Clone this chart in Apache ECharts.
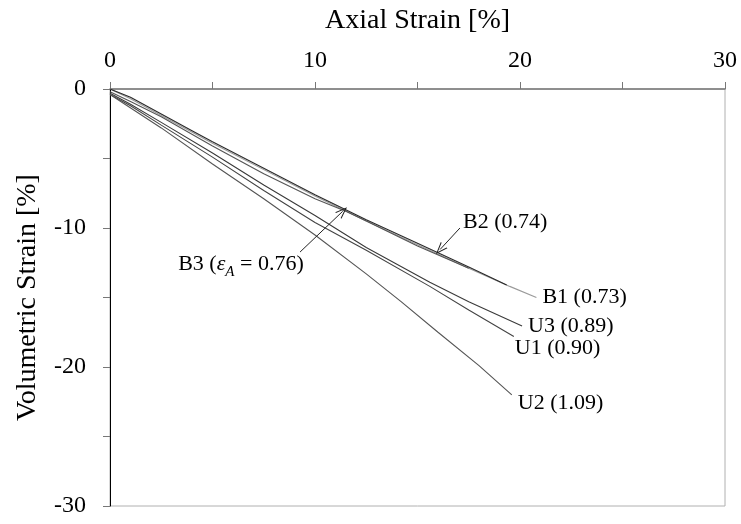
<!DOCTYPE html>
<html>
<head>
<meta charset="utf-8">
<script src="https://cdn.jsdelivr.net/npm/echarts@6/dist/echarts.min.js"></script>
<style>
  html, body { margin: 0; padding: 0; background: #fff; }
  #chart { width: 741px; height: 524px; }
</style>
</head>
<body>
<div id="chart"></div>
<script>
// curves: [axial strain %, volumetric strain %]
const B1 = [[0, 0], [1, -0.7], [2.5, -1.9], [5, -3.9], [7.5, -5.8], [10, -7.7], [12.5, -9.5], [15, -11.2], [17.5, -12.9], [19.5, -14.2], [20.8, -15.0]]
const B2 = [[0, 0], [1, -0.6], [2.5, -1.8], [4, -3.0], [5, -3.8], [7.5, -5.7], [10, -7.6], [12.5, -9.4], [15, -11.1], [17.5, -12.8], [19.35, -14.1]]
const B3 = [[0, -0.2], [1, -0.9], [2.5, -2.0], [5, -4.1], [7.5, -6.1], [10, -7.9], [11.5, -8.8], [12.5, -9.5], [15, -11.3], [17.5, -12.9]]
const U1 = [[0, -0.4], [1, -1.2], [2.5, -2.6], [5, -4.9], [7.5, -7.3], [10, -9.6], [12.5, -11.6], [15.6, -14.2], [17.5, -15.9], [19.7, -17.8]]
const U2 = [[0, -0.4], [2.5, -2.8], [5, -5.4], [7.5, -7.9], [10, -10.5], [12.5, -13.3], [14.2, -15.3], [16, -17.5], [18, -19.9], [19.6, -22.0]]
const U3 = [[0, -0.3], [1, -1.1], [2.5, -2.4], [5, -4.6], [7.5, -6.9], [10, -9.1], [12.5, -11.4], [15.6, -13.9], [17.5, -15.3], [20.1, -17.05]]

const xTicks = [0, 10, 20, 30]
const yTicks = [0, -10, -20, -30]

const FONT = 'Liberation Serif'

const chart = echarts.init(document.getElementById('chart'))

// curve with a label at its end (B1, U1..U3) or none
function curve(name, data, color, label, offset) {
  return {
    name,
    type: 'line',
    data,
    symbol: 'none',
    smooth: false,
    lineStyle: { color, width: 1.1 },
    silent: true,
    endLabel: label
      ? {
          show: true,
          formatter: label,
          fontFamily: FONT,
          fontSize: 22,
          color: '#000',
          distance: 6,
          offset: offset || [0, 0],
        }
      : { show: false },
  }
}

chart.setOption({
  animation: false,
  grid: {
    left: 110,
    right: 16,
    top: 89,
    bottom: 18,
    show: true,
    borderColor: '#b0b0b0',
    borderWidth: 1,
  },
  xAxis: {
    type: 'value',
    position: 'top',
    min: 0,
    max: 30,
    interval: 5,
    name: 'Axial Strain [%]',
    nameLocation: 'middle',
    nameGap: 54,
    nameTextStyle: { fontFamily: FONT, fontSize: 28, color: '#000' },
    axisLine: { onZero: false, lineStyle: { color: '#777', width: 1.5 } },
    axisTick: { inside: false, length: 7, lineStyle: { color: '#777' } },
    axisLabel: {
      fontFamily: FONT,
      fontSize: 24,
      color: '#000',
      margin: 16,
      formatter: (v) => (xTicks.includes(v) ? String(v) : ''),
    },
    splitLine: { show: false },
  },
  yAxis: {
    type: 'value',
    min: -30,
    max: 0,
    interval: 5,
    name: 'Volumetric Strain [%]',
    nameLocation: 'middle',
    nameRotate: 90,
    nameGap: 68,
    nameTextStyle: { fontFamily: FONT, fontSize: 28, color: '#000' },
    axisLine: { show: true, onZero: false, lineStyle: { color: '#000', width: 1 } },
    axisTick: { show: true, length: 7, lineStyle: { color: '#777' } },
    axisLabel: {
      fontFamily: FONT,
      fontSize: 24,
      color: '#000',
      margin: 24,
      formatter: (v) => (yTicks.includes(v) ? String(v) : ''),
    },
    splitLine: { show: false },
  },
  series: [
    curve('B1', B1, '#9a9a9a', 'B1 (0.73)'),
    curve('U3', U3, '#3a3a3a', 'U3 (0.89)'),
    curve('U1', U1, '#444', 'U1 (0.90)', [-5, 12]),
    curve('U2', U2, '#555', 'U2 (1.09)', [0, 8]),
    curve('B3', B3, '#555', null),
    {
      ...curve('B2', B2, '#2a2a2a', null),
      // arrows pointing at B2 and B3, with their labels
      markLine: {
        silent: true,
        symbol: ['none', 'path://M0,0 L4,11 L3,11 L0,2.5 L-3,11 L-4,11 Z'],
        symbolSize: [9, 12],
        lineStyle: { color: '#222', width: 1, type: 'solid' },
        label: { show: false },
        data: [
          [{ coord: [17.07, -10.0] }, { coord: [16.1, -11.55] }],
          [{ coord: [9.27, -11.73] }, { coord: [11.35, -8.8] }],
        ],
      },
      markPoint: {
        silent: true,
        symbol: 'circle',
        symbolSize: 0,
        data: [
          {
            coord: [17.22, -9.57],
            label: {
              show: true,
              position: 'right',
              distance: 0,
              formatter: 'B2 (0.74)',
              fontFamily: FONT,
              fontSize: 22,
              color: '#000',
            },
          },
          {
            coord: [9.45, -12.59],
            label: {
              show: true,
              position: 'left',
              distance: 0,
              formatter: '{a|B3 (}{e|ε}{s|A}{a| = 0.76)}',
              color: '#000',
              rich: {
                a: { fontFamily: FONT, fontSize: 22, color: '#000', height: 26 },
                e: { fontFamily: FONT, fontSize: 22, fontStyle: 'italic', color: '#000', height: 26 },
                s: { fontFamily: FONT, fontSize: 15, fontStyle: 'italic', color: '#000', height: 26, verticalAlign: 'bottom', padding: [0, 0, -8, 0] },
              },
            },
          },
        ],
      },
    },
  ],
})
</script>
</body>
</html>
